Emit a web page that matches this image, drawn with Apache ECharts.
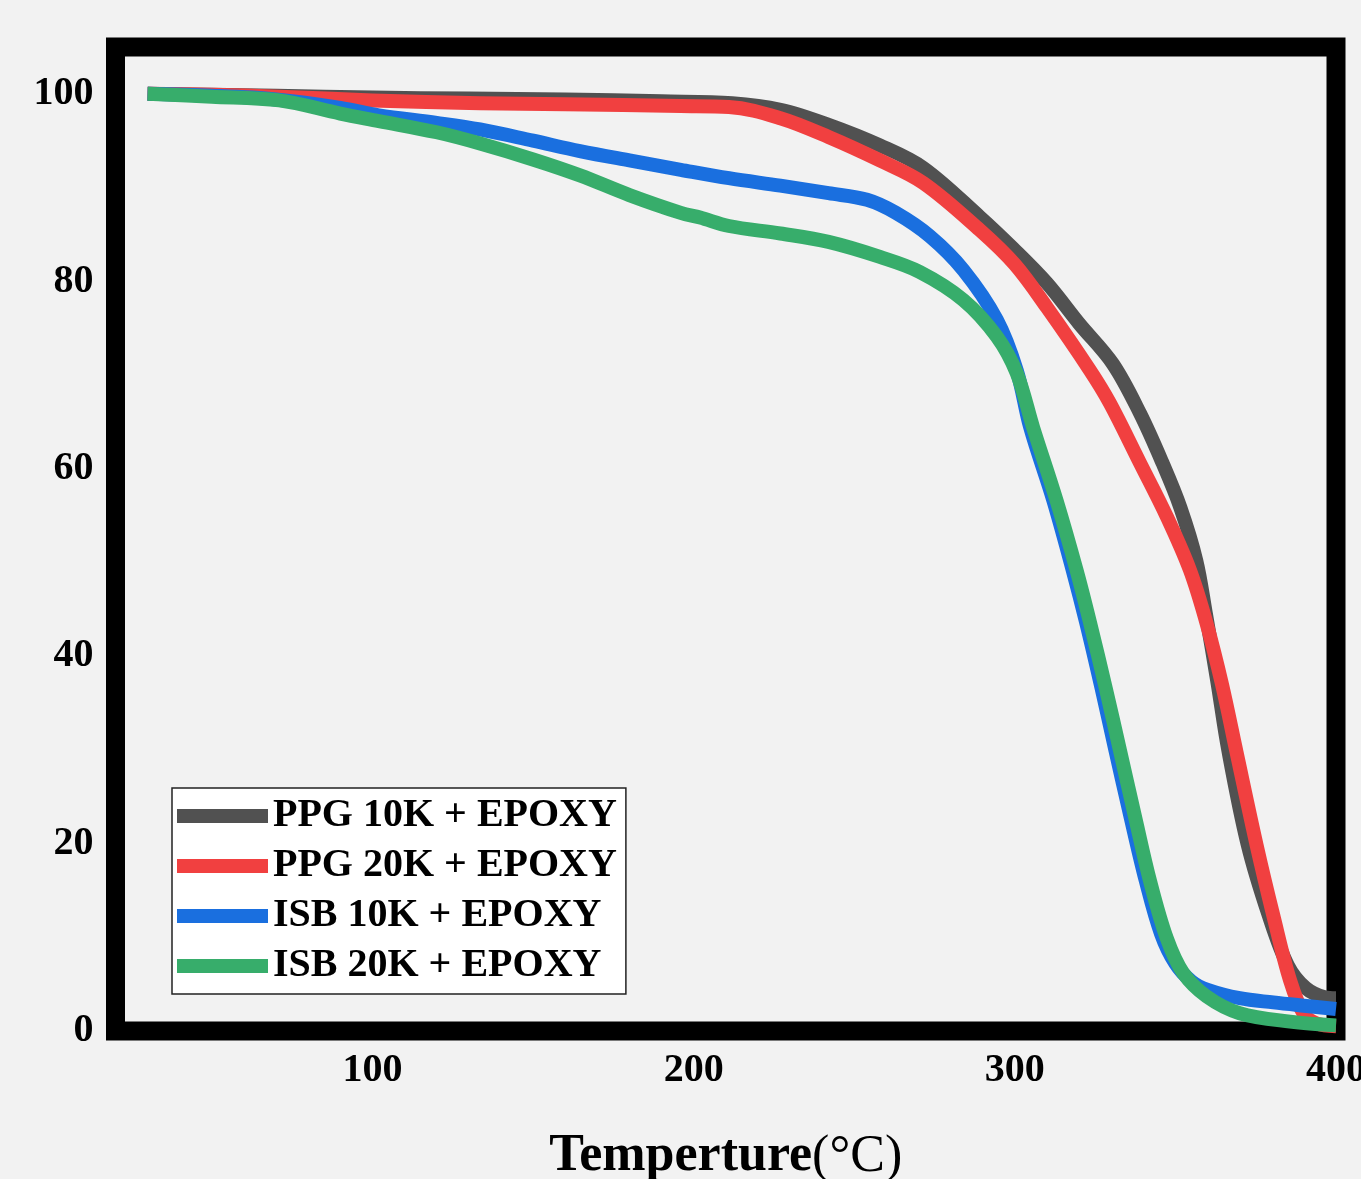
<!DOCTYPE html>
<html>
<head>
<meta charset="utf-8">
<script src="https://cdn.jsdelivr.net/npm/echarts@6/dist/echarts.min.js"></script>
<style>
  html, body { margin: 0; padding: 0; background: #f2f2f2; }
  #chart { width: 1361px; height: 1179px; }
</style>
</head>
<body>
<div id="chart"></div>
<script>
// TGA weight-loss curves (weight % vs. temperature)
const seriesNames = ['PPG 10K + EPOXY', 'PPG 20K + EPOXY', 'ISB 10K + EPOXY', 'ISB 20K + EPOXY'];
const seriesColors = ['#515151', '#F14040', '#1A6FDF', '#37AD6B'];

const ppg10kTemp = [30, 50, 70, 100, 130, 160, 190, 212, 227, 242, 258, 271.5, 289, 299.5, 310, 320, 330.5, 339, 346, 351.5, 356.5, 359.5, 363, 366.5, 372.5, 379, 385, 390.5, 396.5, 400];
const ppg10kMass = [100, 99.9, 99.8, 99.6, 99.5, 99.4, 99.2, 99.0, 98.3, 96.7, 94.5, 92.1, 86.9, 83.5, 79.8, 75.5, 71.2, 65.9, 60.6, 55.9, 50.2, 44.5, 37.4, 29.9, 19.9, 12.4, 7.0, 4.6, 3.6, 3.5];

const ppg20kTemp = [30, 50, 71, 100, 133.5, 160, 196, 211, 227, 242, 258, 271.5, 289, 300, 310, 323.4, 329.6, 339, 347.3, 354.5, 359.7, 364.5, 369, 375.3, 380.5, 385.7, 390, 394, 400];
const ppg20kMass = [100, 99.9, 99.7, 99.3, 99.0, 98.9, 98.7, 98.6, 97.4, 95.4, 92.9, 90.5, 85.5, 81.8, 77.2, 70.5, 67.0, 60.6, 54.9, 49.2, 43.5, 37.0, 29.8, 19.8, 12.3, 5.4, 1.8, 0.8, 0.5];

const isb10kTemp = [30, 50, 70, 90, 102, 120, 133.5, 150, 164.6, 180, 196, 211, 227, 242, 254, 263, 273.6, 284, 294.4, 300.6, 304.8, 312, 318, 322.2, 327, 331.3, 336, 340.8, 345.5, 350, 355, 360, 370, 380.5, 390, 400];
const isb10kMass = [100, 99.8, 99.4, 98.5, 97.7, 96.9, 96.2, 95.0, 93.9, 92.9, 91.9, 91.0, 90.2, 89.4, 88.7, 87.3, 84.8, 81.2, 75.9, 70.5, 64.4, 56.6, 49.2, 43.6, 36.6, 30.0, 22.9, 16.0, 10.4, 7.2, 5.3, 4.4, 3.5, 3.05, 2.7, 2.35];

const isb20kTemp = [30, 50, 71, 90, 102, 120, 133.5, 150, 164.6, 180, 196, 202, 211, 227, 242, 258, 270.4, 284, 294.4, 300.6, 305.7, 313, 319.2, 323.4, 328.3, 332.7, 337.4, 342.1, 347.3, 352.4, 359.7, 370, 385.7, 400];
const isb20kMass = [100, 99.7, 99.3, 97.9, 97.1, 95.9, 94.7, 93.0, 91.3, 89.2, 87.3, 86.8, 85.9, 85.1, 84.2, 82.6, 81.0, 78.0, 74.1, 70.2, 64.4, 56.6, 49.2, 43.6, 36.6, 30.0, 22.9, 16.0, 9.9, 6.2, 3.7, 1.9, 1.0, 0.6];

const xTickValues = [100, 200, 300, 400];
const yTickValues = [0, 20, 40, 60, 80, 100];

const temps = [ppg10kTemp, ppg20kTemp, isb10kTemp, isb20kTemp];
const masses = [ppg10kMass, ppg20kMass, isb10kMass, isb20kMass];

const serifFont = '"Liberation Serif", "Times New Roman", serif';

const chart = echarts.init(document.getElementById('chart'), null, { renderer: 'canvas' });

const series = seriesNames.map((name, k) => ({
  name: name,
  type: 'line',
  data: temps[k].map((t, i) => [t, masses[k][i]]),
  showSymbol: false,
  symbol: 'none',
  smooth: 0.35,
  color: seriesColors[k],
  lineStyle: { width: 14, color: seriesColors[k], cap: 'butt', join: 'round' },
  itemStyle: { color: seriesColors[k] },
  z: 2 + k
}));

chart.setOption({
  backgroundColor: '#f2f2f2',
  animation: false,
  grid: {
    left: 115.5,
    right: 25,
    top: 47,
    bottom: 148,
    show: true,
    borderWidth: 19,
    borderColor: '#000',
    backgroundColor: 'transparent',
    outerBoundsMode: 'none'
  },
  legend: {
    data: seriesNames,
    orient: 'vertical',
    left: 172,
    top: 788,
    icon: 'rect',
    itemWidth: 91,
    itemHeight: 14,
    itemGap: 10,
    padding: [8, 9, 8, 5],
    backgroundColor: '#ffffff',
    borderColor: '#222',
    borderWidth: 1.5,
    itemStyle: { borderWidth: 0 },
    textStyle: {
      fontSize: 40,
      fontWeight: 'bold',
      fontFamily: serifFont,
      color: '#000',
      lineHeight: 40
    }
  },
  xAxis: {
    type: 'value',
    min: 20,
    max: 400,
    name: '{b|Temperture}{r|(°C)}',
    nameLocation: 'middle',
    nameGap: 100,
    nameTextStyle: {
      rich: {
        b: { fontSize: 52, fontWeight: 'bold', fontFamily: serifFont, color: '#000' },
        r: { fontSize: 52, fontWeight: 'normal', fontFamily: serifFont, color: '#000' }
      }
    },
    axisLine: { show: false },
    axisTick: { show: false },
    splitLine: { show: false },
    axisLabel: {
      customValues: xTickValues,
      margin: 20,
      fontSize: 40,
      fontWeight: 'bold',
      fontFamily: serifFont,
      color: '#000'
    }
  },
  yAxis: {
    type: 'value',
    min: 0,
    max: 105,
    axisLine: { show: false },
    axisTick: { show: false },
    splitLine: { show: false },
    axisLabel: {
      customValues: yTickValues,
      margin: 22,
      fontSize: 40,
      fontWeight: 'bold',
      fontFamily: serifFont,
      color: '#000'
    }
  },
  series: series
});
</script>
</body>
</html>
